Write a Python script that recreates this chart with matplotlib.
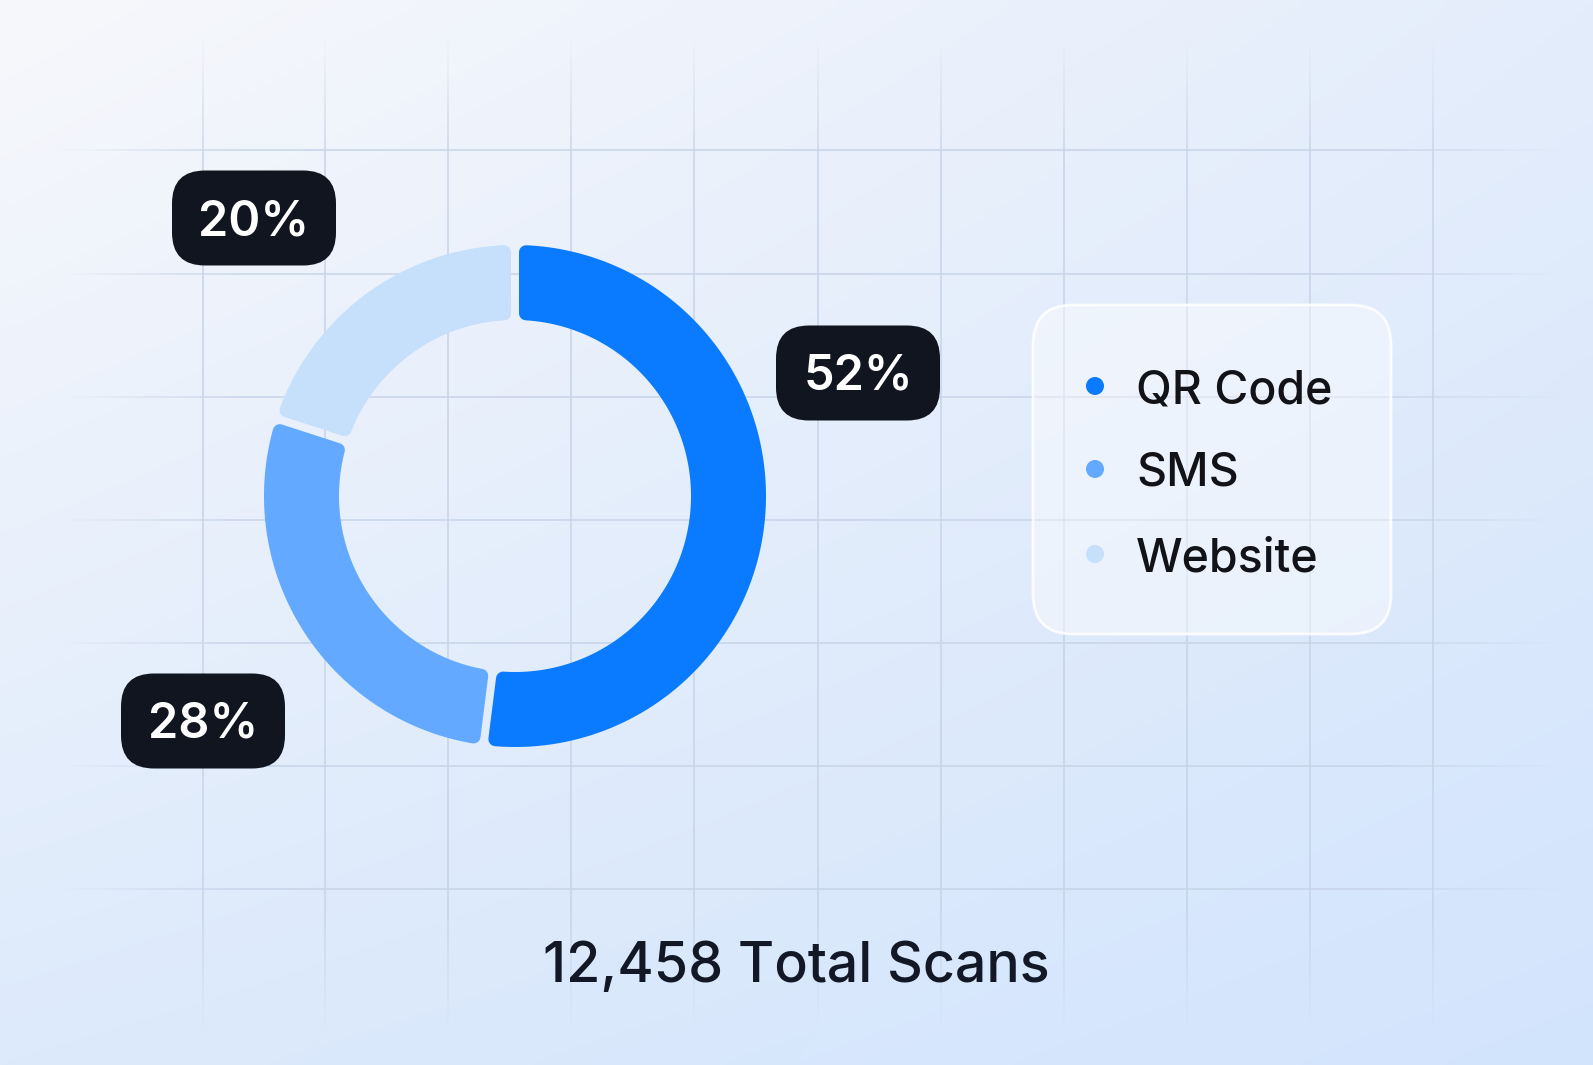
import numpy as np
import matplotlib
matplotlib.use("Agg")
import matplotlib.pyplot as plt
from matplotlib.patches import FancyBboxPatch, Polygon, Circle
from matplotlib.collections import LineCollection

# ---- data ----
categories = ["QR Code", "SMS", "Website"]
shares = [52, 28, 20]
colors = ["#0a7bff", "#63a9ff", "#c6dffb"]
label_texts = ["52%", "28%", "20%"]
total_text = "12,458 Total Scans"

W, H = 1593, 1065
FONT = ["Inter", "DejaVu Sans"]

fig = plt.figure(figsize=(W / 100, H / 100), dpi=100)
ax = fig.add_axes([0, 0, 1, 1])
ax.set_xlim(0, W)
ax.set_ylim(H, 0)
ax.set_aspect("equal")
ax.axis("off")

# ---- background gradient ----
c_tl = np.array([0xf7, 0xf8, 0xfb]) / 255
c_tr = np.array([0xe4, 0xed, 0xfb]) / 255
c_bl = np.array([0xdd, 0xea, 0xfb]) / 255
c_br = np.array([0xd2, 0xe4, 0xfd]) / 255
gx = np.linspace(0, 1, 200)[None, :, None]
gy = np.linspace(0, 1, 140)[:, None, None]
img = (c_tl * (1 - gx) * (1 - gy) + c_tr * gx * (1 - gy)
       + c_bl * (1 - gx) * gy + c_br * gx * gy)
ax.imshow(img, extent=[0, W, H, 0], aspect="auto", zorder=0, interpolation="bicubic")

# ---- grid lines with faded ends ----
vx = [203, 325, 448, 571, 694, 818, 941, 1064, 1187, 1310, 1433]
hy = [150, 274, 397, 520, 643, 766, 889]
gcol = np.array([0.78, 0.83, 0.91])


def fade_line(p0, p1, n=120, amax=0.8, fade=0.12):
    t = np.linspace(0, 1, n + 1)
    pts = np.array(p0)[None, :] * (1 - t[:, None]) + np.array(p1)[None, :] * t[:, None]
    segs = np.stack([pts[:-1], pts[1:]], axis=1)
    tm = (t[:-1] + t[1:]) / 2
    a = np.clip(np.minimum(tm, 1 - tm) / fade, 0, 1) * amax
    cols = np.concatenate([np.tile(gcol, (n, 1)), a[:, None]], axis=1)
    return LineCollection(segs, colors=cols, linewidths=1.4, zorder=1)


for x in vx:
    ax.add_collection(fade_line((x, 40), (x, 1030)))
for y in hy:
    ax.add_collection(fade_line((60, y), (1560, y)))

# ---- donut ----
cx, cy = 515, 496
R_out, R_in = 251, 176
gap = 8.0
cr = 7.0
h = gap / 2 + cr
Ro, Ri = R_out - cr, R_in + cr

start = 90.0
for val, col in zip(shares, colors):
    sweep = 360.0 * val / sum(shares)
    t1 = np.radians(start)
    t2 = np.radians(start - sweep)
    do = np.arcsin(h / Ro)
    di = np.arcsin(h / Ri)
    ao = np.linspace(t1 - do, t2 + do, 200)
    ai = np.linspace(t2 + di, t1 - di, 200)
    xs = np.concatenate([cx + Ro * np.cos(ao), cx + Ri * np.cos(ai)])
    ys = np.concatenate([cy - Ro * np.sin(ao), cy - Ri * np.sin(ai)])
    poly = Polygon(np.column_stack([xs, ys]), closed=True, facecolor=col,
                   edgecolor=col, linewidth=2 * cr * 0.72, joinstyle="round", zorder=3)
    ax.add_patch(poly)
    start -= sweep

# ---- percentage label boxes ----
box_centers = [(858, 373), (203, 721), (254, 218)]
bw, bh = 164, 95
for (bx, by), txt in zip(box_centers, label_texts):
    box = FancyBboxPatch((bx - bw / 2, by - bh / 2), bw, bh,
                         boxstyle="round,pad=0,rounding_size=33",
                         facecolor="#11151f", edgecolor="none", zorder=5)
    ax.add_patch(box)
    ax.text(bx, by + 4, txt, color="white", fontsize=35, fontweight="semibold",
            ha="center", va="center", family=FONT, zorder=6)

# ---- legend card ----
card = FancyBboxPatch((1033, 305), 358, 329,
                      boxstyle="round,pad=0,rounding_size=40",
                      facecolor=(1, 1, 1, 0.42), edgecolor=(1, 1, 1, 0.85),
                      linewidth=2, zorder=4)
ax.add_patch(card)
leg_y = [386, 469, 554]
for y, name, col in zip(leg_y, categories, colors):
    ax.add_patch(Circle((1095, y), 9, facecolor=col, edgecolor="none", zorder=6))
    ax.text(1136, y + 5, name, color="#111318", fontsize=33.5, fontweight="medium",
            ha="left", va="center", family=FONT, zorder=6)

# ---- total ----
ax.text(796, 967, total_text, color="#121826", fontsize=40, fontweight="medium",
        ha="center", va="center", family=FONT, zorder=6)

fig.savefig("out.png", dpi=100)
